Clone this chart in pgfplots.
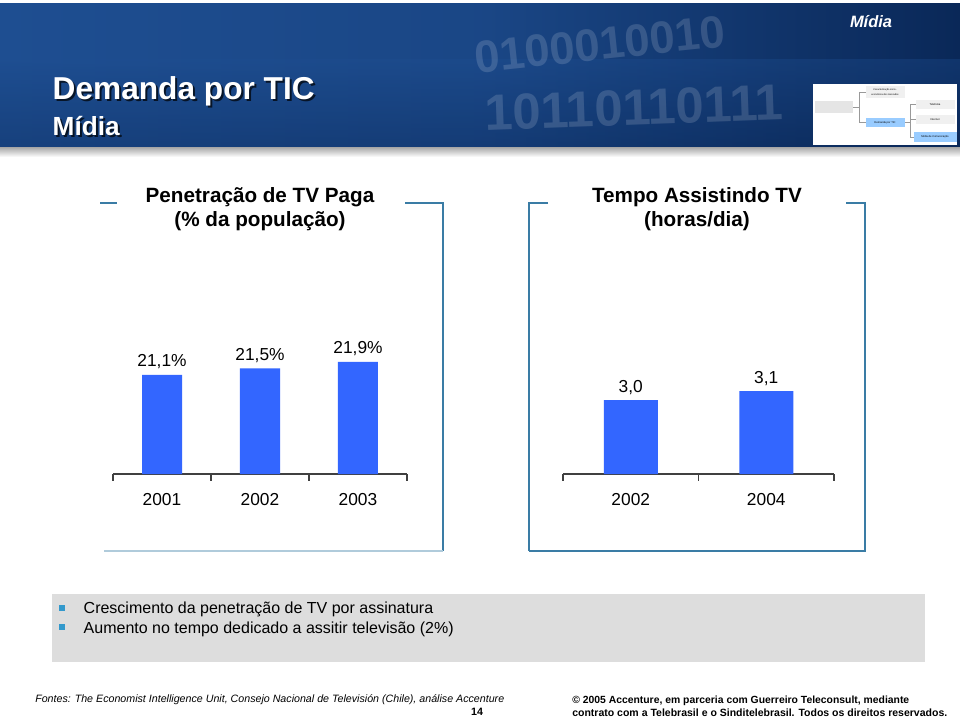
\documentclass[border=0pt]{standalone}
\usepackage{fontspec}
\setmainfont{Liberation Sans}
\usepackage{graphicx}
\usepackage{pgfplots}
\pgfplotsset{compat=1.18}
\definecolor{barblue}{RGB}{51,102,255}
\definecolor{framec}{RGB}{58,124,165}
\definecolor{bannerL}{RGB}{30,78,145}
\definecolor{bannerR}{RGB}{10,40,88}
\definecolor{bulletc}{RGB}{51,153,204}
\definecolor{boxgray}{RGB}{221,221,221}
\definecolor{axisc}{RGB}{64,64,64}
\definecolor{thumbblue}{RGB}{153,204,255}
\begin{document}
\begin{tikzpicture}
\begin{scope}[x=0.75pt,y=-0.75pt]
\useasboundingbox (0,0) rectangle (960,717);
\path[fill=white] (0,0) rectangle (960,717);
% banner
\shade[left color=bannerL, right color=bannerR, middle color=bannerL!80!bannerR] (0,4) rectangle (960,147);
\shade[top color=bannerL, bottom color=bannerR, opacity=0.35] (0,60) rectangle (960,147);
\shade[top color=black!35, bottom color=white] (0,147) rectangle (960,157);
% decorative digits
\node[rotate=6, text=white, opacity=0.15, font=\fontsize{34}{34}\selectfont\bfseries, anchor=west] at (470,58) {0100010010};
\node[rotate=2, text=white, opacity=0.15, font=\fontsize{38}{38}\selectfont\bfseries, anchor=west] at (480,113) {10110110111};
% titles in banner
\node[anchor=west, text=black, opacity=0.7] at (50,93) {\resizebox{196.5pt}{!}{\bfseries Demanda por TIC}};
\node[anchor=west, text=white] at (48,91) {\resizebox{196.5pt}{!}{\bfseries Demanda por TIC}};
\node[anchor=west, text=black, opacity=0.7] at (50,128) {\resizebox{50.25pt}{!}{\bfseries Mídia}};
\node[anchor=west, text=white] at (48,126) {\resizebox{50.25pt}{!}{\bfseries Mídia}};
\node[anchor=center, text=white] at (871,22) {\resizebox{31.5pt}{!}{\bfseries\itshape Mídia}};
% thumbnail
\fill[white] (813,84) rectangle (957,145);
\fill[black!10] (815,101) rectangle (853,113);
\fill[black!6] (866,86) rectangle (905,98);
\fill[thumbblue] (866,118) rectangle (905,127);
\fill[black!6] (916,100) rectangle (955,109);
\fill[black!6] (916,115) rectangle (955,124);
\fill[thumbblue] (914,132) rectangle (957,142);
\draw[black!40, line width=0.4pt] (853,107) -- (859,107) (859,92) -- (859,122) (859,92) -- (866,92) (859,122) -- (866,122)
  (905,122) -- (910,122) (910,104) -- (910,137) (910,104) -- (916,104) (910,119) -- (916,119) (910,137) -- (914,137);
\node[font=\fontsize{1.8}{2}\selectfont, inner sep=0pt] at (885,89.5) {Caracterização sócio-};
\node[font=\fontsize{1.8}{2}\selectfont, inner sep=0pt] at (885,94.5) {econômica dos mercados};
\node[font=\fontsize{2}{2.5}\selectfont, inner sep=0pt] at (885,122.5) {Demanda por TIC};
\node[font=\fontsize{2}{2.5}\selectfont, inner sep=0pt] at (935,104.5) {Telefonia};
\node[font=\fontsize{2}{2.5}\selectfont, inner sep=0pt] at (935,119.5) {Internet};
\node[font=\fontsize{2}{2.5}\selectfont, inner sep=0pt] at (935,137) {Mídia de Comunicação};
% panel frames
\draw[framec, line width=1.3pt] (100,203) -- (117,203);
\draw[framec, line width=1.3pt] (405,203) -- (443,203) -- (443,551);
\draw[framec!40, line width=0.8pt] (443,551) -- (104,551);
\draw[framec, line width=1.3pt] (548,203) -- (529,203) -- (529,551);
\draw[framec, line width=1.3pt] (846,203) -- (865,203) -- (865,551) -- (529,551);
% chart titles
\node[font=\fontsize{15.5}{18}\selectfont\bfseries] at (260,197) {Penetração de TV Paga};
\node[font=\fontsize{15.5}{18}\selectfont\bfseries] at (260,221) {(\% da população)};
\node[font=\fontsize{15.5}{18}\selectfont\bfseries] at (697,197) {Tempo Assistindo TV};
\node[font=\fontsize{15.5}{18}\selectfont\bfseries] at (697,221) {(horas/dia)};
% bullet box
\fill[boxgray] (52,594) rectangle (925,662);
\fill[bulletc] (59,605) rectangle (65,611);
\fill[bulletc] (59,624) rectangle (65,630);
\node[anchor=west, font=\fontsize{12}{14}\selectfont] at (79,609) {Crescimento da penetração de TV por assinatura};
\node[anchor=west, font=\fontsize{12}{14}\selectfont] at (79,629) {Aumento no tempo dedicado a assitir televisão (2\%)};
% footer
\node[anchor=west, inner sep=0pt] at (35,700) {\resizebox{351.75pt}{!}{\itshape Fontes: The Economist Intelligence Unit, Consejo Nacional de Televisión (Chile), análise Accenture}};
\node[font=\fontsize{8}{9}\selectfont\bfseries] at (477,712) {14};
\node[anchor=west, inner sep=0pt] at (572,701) {\resizebox{252.75pt}{!}{\bfseries © 2005 Accenture, em parceria com Guerreiro Teleconsult, mediante}};
\node[anchor=west, inner sep=0pt] at (572,713) {\resizebox{281.25pt}{!}{\bfseries contrato com a Telebrasil e o Sinditelebrasil. Todos os direitos reservados.}};
\end{scope}

\pgfplotsset{
  slidebar/.style={
    scale only axis, anchor=south west, clip=false,
    axis x line*=bottom, hide y axis,
    axis line style={draw=axisc, line width=0.8pt},
    major tick length=0pt,
    extra x tick style={major tick length=5pt, tick align=outside, tick style={draw=axisc, line width=0.8pt}},
    extra x tick labels={},
    xticklabel style={font=\fontsize{13}{13}\selectfont, anchor=base, yshift=-23.25pt, inner sep=0pt},
    ybar, bar shift=0pt,
    nodes near coords, point meta=explicit symbolic,
    nodes near coords style={anchor=base, yshift=6pt, inner sep=0pt, font=\fontsize{13}{13}\selectfont, text=black},
  }
}
\begin{axis}[slidebar, at={(84.75pt,-355.5pt)}, width=220.5pt, height=97.5pt,
  xmin=-0.5, xmax=2.5, ymin=15, ymax=23,
  xtick={0,1,2}, xticklabels={2001,2002,2003},
  extra x ticks={-0.5,0.5,1.5,2.5}, bar width=30pt]
\addplot[fill=barblue, draw=none] coordinates {(0,21.1) [21,1\%] (1,21.5) [21,5\%] (2,21.9) [21,9\%]};
\end{axis}
\begin{axis}[slidebar, at={(422.25pt,-355.5pt)}, width=203.25pt, height=75.6pt,
  xmin=-0.5, xmax=1.5, ymin=2.18, ymax=3.3,
  xtick={0,1}, xticklabels={2002,2004},
  extra x ticks={-0.5,0.5,1.5}, bar width=40.5pt]
\addplot[fill=barblue, draw=none] coordinates {(0,3.0) [{3,0}] (1,3.1) [{3,1}]};
\end{axis}
\end{tikzpicture}
\end{document}
